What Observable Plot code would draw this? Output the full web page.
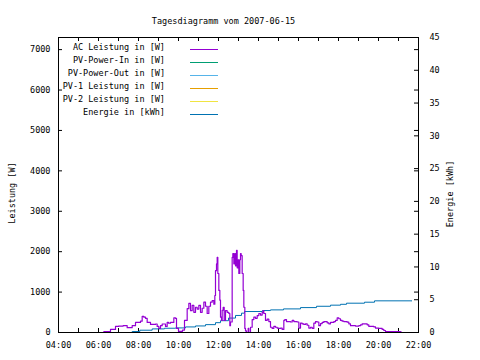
<!DOCTYPE html>
<html><head><meta charset="utf-8">
<script src="https://cdn.jsdelivr.net/npm/d3@7"></script>
<script src="https://cdn.jsdelivr.net/npm/@observablehq/plot@0.6"></script>
<style>body{margin:0;background:#fff} svg{display:block}</style>
</head><body><div id="chart"></div>
<script>
const title = "Tagesdiagramm vom 2007-06-15";
const yLabel = "Leistung [W]";
const y2Label = "Energie [kWh]";
const legendNames = ["AC Leistung in [W]", "PV-Power-In in [W]", "PV-Power-Out in [W]", "PV-1 Leistung in [W]", "PV-2 Leistung in [W]", "Energie in [kWh]"];
const legendColors = ["#9400D3", "#009E73", "#56B4E9", "#E69F00", "#F0E442", "#0072B2"];
const xTickHours = [4, 6, 8, 10, 12, 14, 16, 18, 20, 22];
const xMinorHours = [5, 7, 9, 11, 13, 15, 17, 19, 21];
const yTicks = [0, 1000, 2000, 3000, 4000, 5000, 6000, 7000];
const y2Ticks = [0, 5, 10, 15, 20, 25, 30, 35, 40, 45];
const yMax = 7300, y2Max = 45;

const powerTimes = ["06:12","06:16","06:36","06:51","07:00","07:14","07:26","07:41","07:51","08:06","08:11","08:16","08:21","08:26","08:36","08:51","08:56","09:01","09:06","09:11","09:21","09:26","09:30","09:36","09:46","09:51","09:54","10:00","10:06","10:12","10:18","10:26","10:31","10:36","10:41","10:46","10:51","10:56","11:01","11:06","11:11","11:16","11:21","11:26","11:31","11:36","11:41","11:46","11:49","11:51","11:54","11:56","11:58","12:01","12:04","12:06","12:09","12:11","12:14","12:17","12:21","12:26","12:31","12:34","12:36","12:41","12:43","12:46","12:49","12:51","12:54","12:56","12:59","13:01","13:04","13:06","13:08","13:11","13:14","13:16","13:19","13:21","13:24","13:29","13:31","13:36","13:41","13:46","13:51","13:56","14:01","14:06","14:11","14:14","14:16","14:21","14:26","14:31","14:36","14:41","14:46","14:51","14:56","15:01","15:06","15:11","15:16","15:19","15:24","15:31","15:36","15:41","15:46","15:56","16:01","16:06","16:11","16:16","16:21","16:26","16:31","16:36","16:41","16:46","16:51","16:56","17:01","17:06","17:11","17:16","17:26","17:31","17:36","17:46","17:51","17:56","18:01","18:06","18:11","18:16","18:26","18:31","18:36","18:51","19:01","19:06","19:11","19:21","19:26","19:31","19:46","19:51","20:01","20:11","20:16","20:21","21:06","21:09"];
const powerValues = [0,20,75,150,160,170,120,170,250,280,400,380,350,250,200,210,150,100,170,210,150,250,230,250,360,350,100,30,30,60,300,590,720,540,670,500,625,580,670,500,600,750,650,470,650,750,790,700,915,1530,1700,1860,1460,1040,800,380,300,550,625,300,540,500,470,170,260,1860,1950,1700,1950,1650,2030,1600,1800,1460,1800,1950,1900,1460,1040,625,100,40,0,100,0,130,320,380,350,420,470,430,500,540,470,300,330,270,130,100,150,130,110,100,110,75,300,320,270,270,260,300,270,260,110,230,215,200,215,180,110,130,100,230,270,260,170,220,250,270,240,215,250,270,300,360,340,300,280,270,255,215,170,160,170,190,215,215,190,150,140,110,100,75,50,25,10,0];

const energyTimes = ["06:00","07:41","08:04","08:41","09:18","09:51","10:21","10:51","11:21","11:51","12:06","12:30","12:51","13:09","13:18","14:12","14:36","15:15","16:06","16:54","17:36","18:06","18:24","19:18","19:48","21:40"];
const energyValues = [0,0.15,0.35,0.55,0.65,0.7,0.85,1.0,1.2,1.5,1.8,2.2,2.6,2.95,3.2,3.35,3.45,3.6,3.8,4.0,4.17,4.3,4.47,4.62,4.83,4.83];

const toH = s => { const [h, m] = s.split(":").map(Number); return h + m / 60; };
const k = yMax / y2Max;
const power = powerTimes.map((t, i) => ({t: toH(t), v: powerValues[i]}));
const energy = energyTimes.map((t, i) => ({t: toH(t), v: energyValues[i]}));

const W = 480, H = 360, mL = 58, mR = 62, mT = 37, mB = 28;
const fw = W - mL - mR, fh = H - mT - mB;
const font = "DejaVu Sans Mono";
const allX = [...xTickHours, ...xMinorHours];

const chart = Plot.plot({
  width: W, height: H,
  marginLeft: mL, marginRight: mR, marginTop: mT, marginBottom: mB,
  style: {fontFamily: font, fontSize: "8.5px", color: "#000", background: "#fff", overflow: "visible"},
  x: {domain: [4, 22]},
  y: {domain: [0, yMax]},
  marks: [
    Plot.axisX(xTickHours, {tickSize: 0, tickPadding: 9, tickFormat: h => String(h).padStart(2, "0") + ":00", label: null}),
    Plot.axisY(yTicks, {anchor: "left", tickSize: 0, tickPadding: 8, tickFormat: d => String(d), label: null}),
    Plot.axisY(y2Ticks.map(v => v * k), {anchor: "right", tickSize: 0, tickPadding: 11, tickFormat: d => String(Math.round(d / k)), label: null}),
    Plot.tickX(allX, {x: d => d, insetTop: fh - 4, stroke: "#000"}),
    Plot.tickX(allX, {x: d => d, insetBottom: fh - 4, stroke: "#000"}),
    Plot.tickY(yTicks, {y: d => d, insetRight: fw - 4, stroke: "#000"}),
    Plot.tickY(yTicks, {y: d => d, insetLeft: fw - 4, stroke: "#000"}),
    Plot.tickY(y2Ticks, {y: d => d * k, insetLeft: fw - 4, stroke: "#000"}),
    Plot.line(energy, {x: "t", y: d => d.v * k, curve: "step-after", stroke: legendColors[5], strokeWidth: 1}),
    Plot.line(power, {x: "t", y: "v", curve: "step-after", stroke: legendColors[0], strokeWidth: 1.2}),
    Plot.frame({stroke: "#000"}),
    Plot.text([title], {frameAnchor: "top", dx: -15, dy: -20}),
    Plot.text([yLabel], {frameAnchor: "left", textAnchor: "middle", dx: -46, dy: 8, rotate: -90}),
    Plot.text([y2Label], {frameAnchor: "right", textAnchor: "middle", dx: 32, dy: 9, rotate: -90})
  ]
});

const svg = d3.select(chart);
const lg = svg.append("g").attr("font-family", font).attr("font-size", "8.5px");
legendNames.forEach((name, i) => {
  const y = mT + 12 + 13 * i;
  lg.append("text").attr("x", 165).attr("y", y - 1.5).attr("dy", "0.35em")
    .attr("text-anchor", "end").attr("fill", "#000").text(name);
  lg.append("line").attr("x1", 190).attr("x2", 218).attr("y1", y + 0.5).attr("y2", y + 0.5)
    .attr("stroke", legendColors[i]).attr("stroke-width", 1);
});
document.getElementById("chart").appendChild(chart);
</script>
</body></html>
